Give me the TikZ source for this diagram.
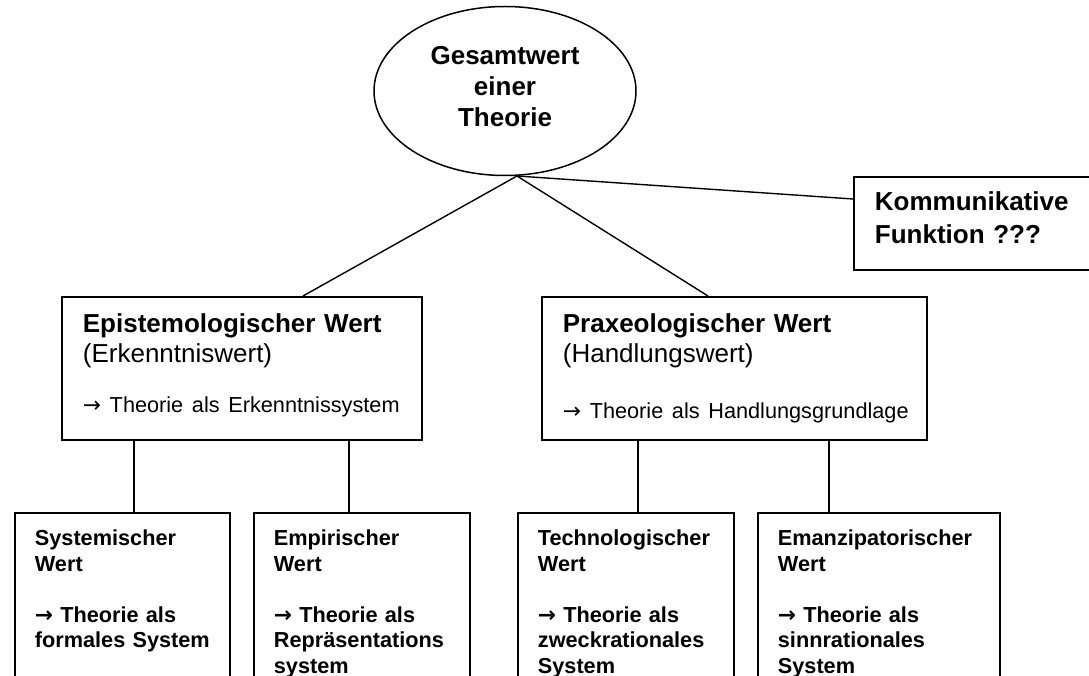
\documentclass[tikz,border=0pt]{standalone}
\usepackage{fontspec}
\setmainfont{Liberation Sans}
\newfontfamily\arrowfont{DejaVu Sans}
\newcommand\Pfeil{{\arrowfont →}}
\usetikzlibrary{shapes.geometric}

\begin{document}
\begin{tikzpicture}[x=1pt,y=-1pt]
\tikzset{Box/.style={draw,line width=1.8pt,rectangle,anchor=north west,align=left,inner ysep=0pt,inner xsep=21pt,font=\fontsize{26}{30}\selectfont},
  Leaf/.style={Box,inner xsep=20pt,text height=33pt,text depth=200pt,font=\fontsize{21.7}{25.5}\selectfont\bfseries},
  Link/.style={line width=1.4pt}}
\useasboundingbox (0,0) rectangle (1089,676);
\clip (0,0) rectangle (1089,676);
\node[ellipse,draw,line width=1.5pt,minimum width=262pt,minimum height=169pt,inner sep=0pt,align=center,font=\fontsize{26}{31}\selectfont\bfseries] (Ges) at (505,91) {Gesamtwert\\einer\\Theorie\rule[-9pt]{0pt}{9pt}};
\node[Box,text width=240pt,text height=34pt,text depth=59pt,font=\fontsize{26}{33}\selectfont\bfseries] (Komm) at (853,176) {Kommunikative\\Funktion ???};
\node[Box,text width=318pt,text height=36pt,text depth=107pt] (Epi) at (61,296)
  {\textbf{Epistemologischer Wert}\\(Erkenntniswert)\\[20pt]\mbox{\fontsize{21.7}{25.5}\selectfont\Pfeil\ Theorie als Erkenntnissystem}};
\node[Box,text width=343pt,text height=36pt,text depth=107pt] (Prax) at (541,296)
  {\textbf{Praxeologischer Wert}\\(Handlungswert)\\[26pt]\mbox{\fontsize{21.7}{25.5}\selectfont\Pfeil\ Theorie als Handlungsgrundlage}};
\node[Leaf,text width=175pt] (Sys) at (14,512) {Systemischer\\Wert\\[25.5pt]\Pfeil\ Theorie als\\formales System};
\node[Leaf,text width=176pt] (Emp) at (253,512) {Empirischer\\Wert\\[25.5pt]\Pfeil\ Theorie als\\Repräsentations\\system};
\node[Leaf,text width=176pt] (Tech) at (517,512) {Technologischer\\Wert\\[25.5pt]\Pfeil\ Theorie als\\zweckrationales\\System};
\node[Leaf,text width=202pt] (Eman) at (757,512) {Emanzipatorischer\\Wert\\[25.5pt]\Pfeil\ Theorie als\\sinnrationales\\System};
\coordinate (Hub) at (517,176);
\draw[Link] (Hub) -- ([xshift=242pt]Epi.north west);
\draw[Link] (Hub) -- ([xshift=167pt]Prax.north west);
\draw[Link] (Hub) -- ([yshift=-23pt]Komm.north west);
\coordinate (E1) at ([xshift=73pt]Epi.south west);
\coordinate (E2) at ([xshift=288pt]Epi.south west);
\coordinate (P1) at ([xshift=97pt]Prax.south west);
\coordinate (P2) at ([xshift=288pt]Prax.south west);
\draw[Link] (E1) -- (E1 |- Sys.north);
\draw[Link] (E2) -- (E2 |- Emp.north);
\draw[Link] (P1) -- (P1 |- Tech.north);
\draw[Link] (P2) -- (P2 |- Eman.north);
\end{tikzpicture}
\end{document}
